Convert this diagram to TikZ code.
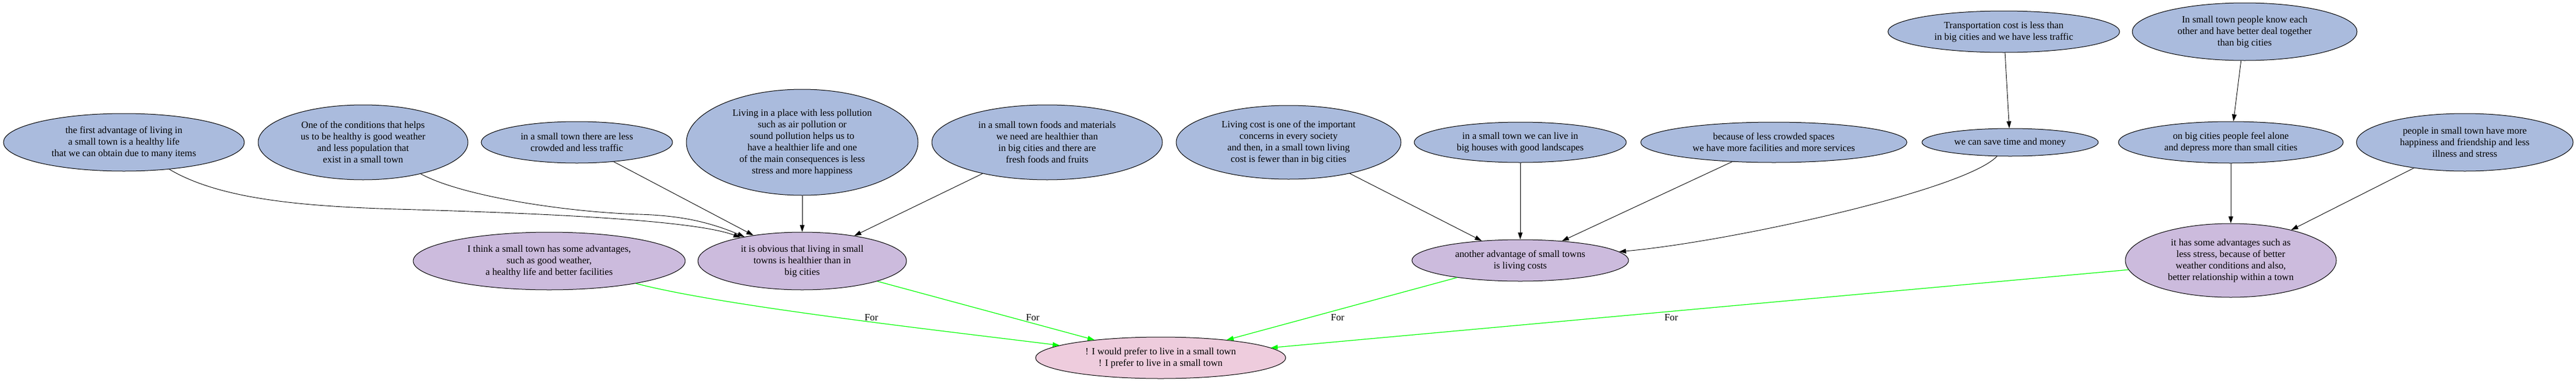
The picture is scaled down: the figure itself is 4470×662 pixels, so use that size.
\documentclass[tikz,border=0pt]{standalone}
\usepackage{fontspec}
\setmainfont{Liberation Serif}
\usetikzlibrary{shapes.geometric,arrows.meta}
\definecolor{premcol}{HTML}{AABBDD}
\definecolor{claimcol}{HTML}{CCBBDD}
\definecolor{rootcol}{HTML}{EECCDD}
\definecolor{forcol}{HTML}{00FF00}
\begin{document}
\begin{tikzpicture}[x=1pt,y=-1pt,
  arg/.style={ellipse,draw=black,line width=1pt,inner sep=0pt,align=center,font=\fontsize{16.8}{20}\selectfont},
  prem/.style={arg,fill=premcol},
  claim/.style={arg,fill=claimcol},
  rootnode/.style={arg,fill=rootcol},
  sz/.style 2 args={minimum width=#1pt,minimum height=#2pt},
  supedge/.style={draw=black,line width=0.9pt,-{Triangle[length=12pt,width=8pt]}},
  proedge/.style={draw=forcol,line width=1.2pt,-{Triangle[length=12pt,width=8pt]}},
  lbl/.style={font=\fontsize{16.8}{20}\selectfont,inner sep=0pt}
]
\useasboundingbox (0,0) rectangle (4470,662);
% premises
\node[prem,sz={418}{100}] (A1) at (215,247) {the first advantage of living in\\a small town is a healthy life\\that we can obtain due to many items};
\node[prem,sz={364}{130}] (A2) at (630,247) {One of the conditions that helps\\us to be healthy is good weather\\and less population that\\exist in a small town};
\node[prem,sz={332}{72}] (A3) at (1001,247) {in a small town there are less\\crowded and less traffic};
\node[prem,sz={402}{184}] (A4) at (1392,247) {Living in a place with less pollution\\such as air pollution or\\sound pollution helps us to\\have a healthier life and one\\of the main consequences is less\\stress and more happiness};
\node[prem,sz={400}{130}] (A5) at (1817,247) {in a small town foods and materials\\we need are healthier than\\in big cities and there are\\fresh foods and fruits};
\node[prem,sz={390}{128}] (A6) at (2236,247) {Living cost is one of the important\\concerns in every society\\and then, in a small town living\\cost is fewer than in big cities};
\node[prem,sz={368}{70}] (A7) at (2638,247) {in a small town we can live in\\big houses with good landscapes};
\node[prem,sz={462}{70}] (A8) at (3078,247) {because of less crowded spaces\\we have more facilities and more services};
\node[prem,sz={402}{72}] (T1) at (3477,55) {Transportation cost is less than\\in big cities and we have less traffic};
\node[prem,sz={390}{100}] (T2) at (3895,55) {In small town people know each\\other and have better deal together\\than big cities};
\node[prem,sz={306}{48}] (M1) at (3488,247) {we can save time and money};
\node[prem,sz={390}{72}] (M2) at (3871,247) {on big cities people feel alone\\and depress more than small cities};
\node[prem,sz={376}{100}] (M3) at (4277,247) {people in small town have more\\happiness and friendship and less\\illness and stress};
% claims
\node[claim,sz={472}{100}] (B1) at (953,453) {I think a small town has some advantages,\\such as good weather,\\a healthy life and better facilities};
\node[claim,sz={362}{100}] (B2) at (1392,453) {it is obvious that living in small\\towns is healthier than in\\big cities};
\node[claim,sz={376}{72}] (B3) at (2638,452) {another advantage of small towns\\is living costs};
\node[claim,sz={366}{128}] (B4) at (3871,452) {it has some advantages such as\\less stress, because of better\\weather conditions and also,\\better relationship within a town};
% root
\node[rootnode,sz={434}{72}] (R) at (2014,621) {! I would prefer to live in a small town\\! I prefer to live in a small town};
% support edges
\draw[supedge] (A1) .. controls (380,345) and (520,358) .. (689,363) .. controls (900,369) and (1200,380) .. (B2);
\draw[supedge] (A2) .. controls (800,340) and (980,368) .. (1109,372) .. controls (1180,374) and (1230,385) .. (B2);
\draw[supedge] (A3) -- (B2);
\draw[supedge] (A4) -- (B2);
\draw[supedge] (A5) -- (B2);
\draw[supedge] (A6) -- (B3);
\draw[supedge] (A7) -- (B3);
\draw[supedge] (A8) -- (B3);
\draw[supedge] (M1) .. controls (3410,330) and (3000,420) .. (B3);
\draw[supedge] (T1) -- (M1);
\draw[supedge] (T2) -- (M2);
\draw[supedge] (M2) -- (B4);
\draw[supedge] (M3) -- (B4);
% pro edges
\draw[proedge] (B1) .. controls (1250,530) and (1600,570) .. (R);
\draw[proedge] (B2) -- (R);
\draw[proedge] (B3) -- (R);
\draw[proedge] (B4) -- (R);
\node[lbl] (L1) at (1512,551) {For};
\node[lbl] (L2) at (1792,551) {For};
\node[lbl] (L3) at (2321,551) {For};
\node[lbl] (L4) at (2900,551) {For};
\end{tikzpicture}
\end{document}
